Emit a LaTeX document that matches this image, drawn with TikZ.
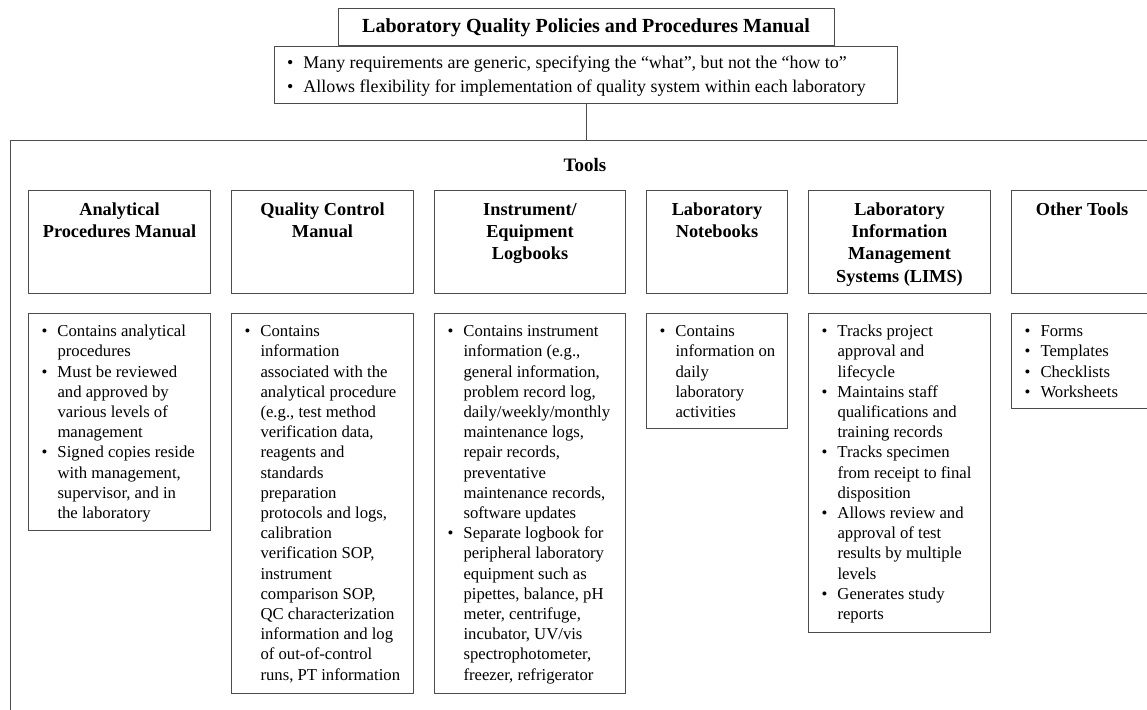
\documentclass[tikz,border=0pt]{standalone}
\usepackage{fontspec}
\setmainfont{Liberation Serif}

% fonts for the boxes
\newcommand{\ttlfont}{\fontsize{20}{24}\selectfont\bfseries}
\newcommand{\hdfont}{\fontsize{18.3}{22.3}\selectfont\bfseries}
\newcommand{\txtfont}{\fontsize{16.7}{20.2}\selectfont}
\newcommand{\topfont}{\fontsize{17.9}{24}\selectfont}
% bullet item with hanging text
\newcommand{\bitem}{\par\leftskip=26pt\noindent\llap{\textbullet\hspace{10pt}}\strut}
% fixed size text blocks, set from the top
\newcommand{\infotext}[3]{\parbox[t][#2][t]{#1}{\raggedright#3\par}}
\newcommand{\headtext}[3]{\parbox[t][#2][t]{#1}{\centering\strut#3\par}}

\tikzset{
  box/.style={draw=black!70, line width=1pt},
  title/.style={box, font=\ttlfont, minimum width=496pt, minimum height=37pt},
  head/.style={box, anchor=north west, inner xsep=4pt, inner ysep=9pt, font=\hdfont},
  info/.style={box, anchor=north west, inner xsep=3pt, inner ysep=9pt, font=\txtfont},
}

\begin{document}
\begin{tikzpicture}[x=1pt, y=-1pt]
  \useasboundingbox (0,0) rectangle (1147,709);

  % manual on top
  \node[title] (policy) at (586,27.5) {Laboratory Quality Policies and Procedures Manual};
  \node[box, anchor=north west, inner xsep=3pt, inner ysep=5pt, font=\topfont]
    (policynotes) at (274,46) {\infotext{617pt}{47pt}{%
    \bitem Many requirements are generic, specifying the “what”, but not the “how to”
    \bitem Allows flexibility for implementation of quality system within each laboratory}};

  % frame round the tools
  \node[box, anchor=north west, minimum width=1200pt, minimum height=620pt,
    inner sep=0pt] (tools) at (10,140) {};
  \draw[box] (policynotes.south) -- (policynotes.south |- tools.north);
  \node[font=\fontsize{19}{22}\selectfont\bfseries] (toolname) at (585,165) {Tools};

  % tool headings
  \node[head] (apm) at (28,190) {\headtext{174pt}{85pt}{Analytical\\Procedures Manual}};
  \node[head] (qcm) at ([xshift=20pt]apm.north east) {\headtext{174pt}{85pt}{Quality Control\\Manual}};
  \node[head] (logs) at ([xshift=20pt]qcm.north east) {\headtext{183pt}{85pt}{Instrument/\\Equipment\\Logbooks}};
  \node[head] (notebk) at ([xshift=20pt]logs.north east) {\headtext{133pt}{85pt}{Laboratory\\Notebooks}};
  \node[head] (lims) at ([xshift=20pt]notebk.north east) {\headtext{174pt}{85pt}{Laboratory\\Information\\Management\\Systems (LIMS)}};
  \node[head] (other) at ([xshift=20pt]lims.north east) {\headtext{133pt}{85pt}{Other Tools}};

  % what each tool holds
  \node[info] (apmtxt) at ([yshift=-19pt]apm.south west) {\infotext{176pt}{199pt}{%
    \bitem Contains analytical\\procedures
    \bitem Must be reviewed\\and approved by\\various levels of\\management
    \bitem Signed copies reside\\with management,\\supervisor, and in\\the laboratory}};
  \node[info] (qcmtxt) at ([yshift=-19pt]qcm.south west) {\infotext{176pt}{362pt}{%
    \bitem Contains\\information\\associated with the\\analytical procedure\\(e.g., test method\\verification data,\\reagents and\\standards\\preparation\\protocols and logs,\\calibration\\verification SOP,\\instrument\\comparison SOP,\\QC characterization\\information and log\\of out-of-control\\runs, PT information}};
  \node[info] (logstxt) at ([yshift=-19pt]logs.south west) {\infotext{185pt}{362pt}{%
    \bitem Contains instrument\\information (e.g.,\\general information,\\problem record log,\\daily/weekly/monthly\\maintenance logs,\\repair records,\\preventative\\maintenance records,\\software updates
    \bitem Separate logbook for\\peripheral laboratory\\equipment such as\\pipettes, balance, pH\\meter, centrifuge,\\incubator, UV/vis\\spectrophotometer,\\freezer, refrigerator}};
  \node[info] (notebktxt) at ([yshift=-19pt]notebk.south west) {\infotext{135pt}{97pt}{%
    \bitem Contains\\information on\\daily\\laboratory\\activities}};
  \node[info] (limstxt) at ([yshift=-19pt]lims.south west) {\infotext{176pt}{301pt}{%
    \bitem Tracks project\\approval and\\lifecycle
    \bitem Maintains staff\\qualifications and\\training records
    \bitem Tracks specimen\\from receipt to final\\disposition
    \bitem Allows review and\\approval of test\\results by multiple\\levels
    \bitem Generates study\\reports}};
  \node[info] (othertxt) at ([yshift=-19pt]other.south west) {\infotext{135pt}{77pt}{%
    \bitem Forms
    \bitem Templates
    \bitem Checklists
    \bitem Worksheets}};
\end{tikzpicture}
\end{document}
